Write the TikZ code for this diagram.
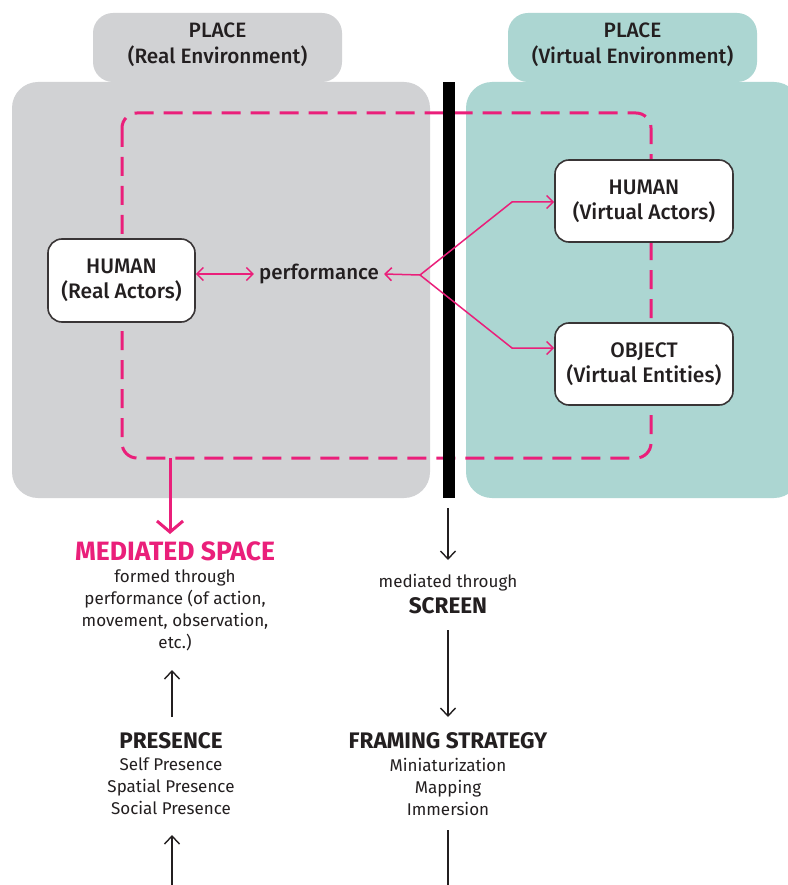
\documentclass[tikz,border=0pt]{standalone}
\usepackage{fontspec}
\setmainfont{Fira Sans Medium}[BoldFont={Fira Sans Bold}]
\newfontfamily\descfont{Fira Sans}
\usetikzlibrary{arrows.meta}
\definecolor{mag}{HTML}{EA1F7A}
\definecolor{grayfill}{HTML}{D1D2D4}
\definecolor{tealfill}{HTML}{ACD6D2}
\definecolor{txt}{HTML}{231F20}
\begin{document}
\begin{tikzpicture}[x=1pt,y=-1pt,
  tabtext/.style={font=\fontsize{20.8}{26}\selectfont, text=txt, align=center, inner sep=0pt},
  actor/.style={draw=txt!90, line width=1.6pt, fill=white, rounded corners=14pt,
    inner sep=0pt, align=center, text=txt, font=\fontsize{21}{25}\selectfont},
  magline/.style={draw=mag, line width=1.5pt},
  magtip/.style={-{Straight Barb[length=6.5pt,width=13pt,line width=1.5pt]}},
  blkline/.style={draw=txt, line width=1.4pt},
  blktip/.style={-{Straight Barb[length=8pt,width=15pt,line width=1.4pt]}},
  desc/.style={font=\descfont\fontsize{17}{22}\selectfont, text=txt, align=center, inner sep=0pt},
  head/.style={font=\bfseries\fontsize{22.5}{24}\selectfont, text=txt, inner sep=0pt},
  dashbox/.style={draw=mag, line width=3pt, dash pattern=on 19pt off 10pt, rounded corners=15pt}
]
\useasboundingbox (0,0) rectangle (787,885);
\fill[white] (0,0) rectangle (787,885);
% regions
\fill[grayfill, rounded corners=20pt] (93,13) rectangle (342,82);
\fill[grayfill, rounded corners=26pt] (12,82) rectangle (430,498);
\fill[tealfill, rounded corners=20pt] (508,13) rectangle (757,82);
\fill[tealfill, rounded corners=26pt] (466,82) rectangle (800,498);
\node[tabtext] (tabL) at (217.5,45) {PLACE\\(Real Environment)};
\node[tabtext] (tabR) at (632.5,45) {PLACE\\(Virtual Environment)};
% dashed boundary
\draw[dashbox] (122,113) rectangle (651,458);
\coordinate (msstart) at (170,458);
% screen bar
\fill[black] (443,82) rectangle (455,498);
% actor boxes
\node[actor, minimum width=147pt, minimum height=83pt] (hr) at (121.5,280.5) {HUMAN\\(Real Actors)};
\node[actor, minimum width=178pt, minimum height=82pt] (hv) at (644,201) {HUMAN\\(Virtual Actors)};
\node[actor, minimum width=178pt, minimum height=82pt] (ov) at (644,364) {OBJECT\\(Virtual Entities)};
\node[font=\fontsize{20.5}{24}\selectfont, text=txt, inner sep=0pt] (perf) at (319,274) {performance};
% performance arrows
\draw[magline, {Straight Barb[length=6.5pt,width=13pt,line width=1.5pt]}-{Straight Barb[length=6.5pt,width=13pt,line width=1.5pt]}] (hr.east |- perf) -- ([xshift=-5pt]perf.west);
\coordinate (fork) at (420,275);
\coordinate (up) at (512,202);
\coordinate (dn) at (512,348);
\draw[magline, magtip] (fork) -- ([xshift=5pt]perf.east);
\draw[magline, magtip] (fork) -- (up) -- (hv.west |- up);
\draw[magline, magtip] (fork) -- (dn) -- (ov.west |- dn);
% mediated space
\node[font=\bfseries\fontsize{26.5}{28}\selectfont, text=mag, inner sep=0pt, anchor=base] (ms) at (175,560) {MEDIATED SPACE};
\draw[mag, line width=3pt, -{Straight Barb[length=11pt,width=26pt,line width=3pt]}] (msstart) -- (170,534);
\node[desc, anchor=north] (msd) at (175,570) {formed through\\performance (of action,\\movement, observation,\\etc.)};
% presence
\node[head, anchor=base] (pres) at (171,748) {PRESENCE};
\node[desc, anchor=north] (presd) at (171,758) {Self Presence\\Spatial Presence\\Social Presence};
\coordinate (presin) at (172,885);
\draw[blkline, blktip] (172,717) -- (172,670);
\draw[blkline, blktip] (presin) -- (172,835);
% screen column
\coordinate (barbot) at (448,508);
\draw[blkline, blktip] (barbot) -- (448,560);
\node[desc, anchor=base] (medthr) at (448,587) {mediated through};
\node[head, anchor=base] (scr) at (448,613) {SCREEN};
\draw[blkline, blktip] (448,630) -- (448,717);
\node[head, anchor=base] (fs) at (448,748) {FRAMING STRATEGY};
\node[desc, anchor=north] (fsd) at (448,758) {Miniaturization\\Mapping\\Immersion};
\coordinate (fsout) at (448,885);
\draw[blkline] (448,830) -- (fsout);
\end{tikzpicture}
\end{document}
